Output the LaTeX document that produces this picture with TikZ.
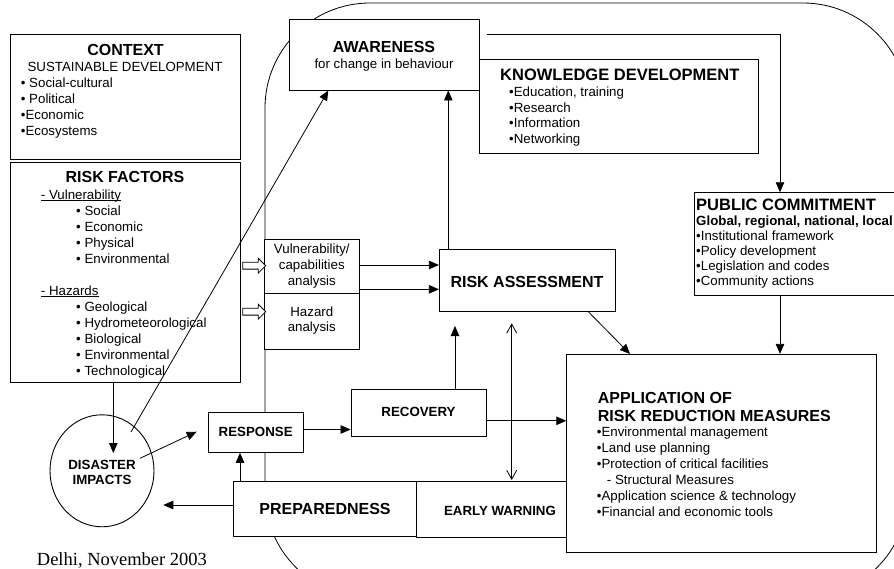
\documentclass[tikz,border=0pt]{standalone}
\usepackage{fontspec}
\setmainfont{Liberation Sans}
\newfontfamily\delhifont{Liberation Serif}
\usetikzlibrary{arrows.meta,shapes.geometric,shapes.arrows}
\newcommand{\LeftLines}[1]{\vtop{\halign{##\hfil\cr#1\crcr}}}
\newcommand{\CenterLines}[1]{\vtop{\halign{\hfil##\hfil\cr#1\crcr}}}
\newcommand{\myul}[1]{\setbox0=\hbox{#1}\rlap{\rule[-2pt]{\wd0}{0.8pt}}\box0}
\begin{document}
\begin{tikzpicture}[x=1pt,y=-1pt,
 box/.style={draw, fill=white, line width=0.9pt, inner sep=0pt},
 hb/.style={inner sep=0pt, font=\fontsize{16}{18.4}\selectfont\bfseries},
 sb/.style={inner sep=0pt, font=\fontsize{13.3}{15.3}\selectfont\bfseries},
 tx/.style={inner sep=0pt, font=\fontsize{13.3}{16}\selectfont},
 arr/.style={line width=0.8pt, -{Triangle[length=10pt,width=8.5pt]}},
 dblarr/.style={line width=0.8pt, {Straight Barb[length=9pt,width=10pt]}-{Straight Barb[length=9pt,width=10pt]}},
 hollow/.style={single arrow, draw, fill=white, line width=0.8pt, inner xsep=0pt, inner ysep=3pt, single arrow head extend=4pt, minimum height=23pt}
]
\useasboundingbox (0,0) rectangle (894,568);
\clip (0,0) rectangle (894,568);
\draw[line width=0.8pt, rounded corners=105pt] (265,3) rectangle (908,598);

% boxes
\node[box, minimum width=230pt, minimum height=125pt] (context) at (125.7,96.8) {};
\node[box, minimum width=230pt, minimum height=220pt] (riskf) at (125.7,272.7) {};
\node[box, minimum width=190pt, minimum height=71pt] (aware) at (384.3,54.5) {};
\node[box, minimum width=279pt, minimum height=94pt] (know) at (618.8,106.3) {};
\node[box, minimum width=206pt, minimum height=103pt] (public) at (797,244.2) {};
\node[box, minimum width=95pt, minimum height=54.3pt] (vuln) at (311.8,266.2) {};
\node[box, minimum width=95pt, minimum height=55.7pt] (hazard) at (311.8,321.2) {};
\node[box, minimum width=175.7pt, minimum height=62.4pt] (ra) at (527.2,280.5) {};
\node[box, minimum width=95pt, minimum height=39.6pt] (response) at (255.8,432.5) {};
\node[box, minimum width=135pt, minimum height=47.5pt] (recovery) at (418.5,412.8) {};
\node[box, minimum width=183.4pt, minimum height=55pt] (prep) at (325,509.2) {};
\node[box, minimum width=166.6pt, minimum height=55.6pt] (early) at (500,509.5) {};
\node[box, minimum width=310pt, minimum height=198.4pt] (apply) at (721.7,453.5) {};
\node[box, ellipse, minimum width=104pt, minimum height=112pt] (disaster) at (102,470.8) {};

% texts
\node[hb, anchor=base] (tcontext) at (125.5,55) {CONTEXT};
\node[tx, anchor=base] (tsd) at (125,71.5) {SUSTAINABLE DEVELOPMENT};
\node[tx, anchor=base west] (tcl) at (20.7,87) {\LeftLines{• Social-cultural\cr • Political\cr •Economic\cr •Ecosystems}};

\node[hb, anchor=base] (triskf) at (125,182.7) {RISK FACTORS};
\node[tx, anchor=base west] (tvul) at (40.7,199) {\myul{- Vulnerability}};
\node[tx, anchor=base west] (tvull) at (76,215.7) {\LeftLines{• Social\cr • Economic\cr • Physical\cr • Environmental}};
\node[tx, anchor=base west] (thaz) at (40.7,295) {\myul{- Hazards}};
\node[tx, anchor=base west] (thazl) at (76,311) {\LeftLines{• Geological\cr • Hydrometeorological\cr • Biological\cr • Environmental\cr • Technological}};

\node[hb, anchor=base] (taware) at (384,52) {AWARENESS};
\node[tx, anchor=base] (tawsub) at (384,68) {for change in behaviour};

\node[hb, anchor=base west, font=\fontsize{16.5}{19}\selectfont\bfseries] (tknow) at (500,80) {KNOWLEDGE DEVELOPMENT};
\node[tx, anchor=base west, font=\fontsize{13.3}{15.5}\selectfont] (tknowl) at (509,96.7) {\LeftLines{•Education, training\cr •Research\cr •Information\cr •Networking}};

\node[hb, anchor=base west, font=\fontsize{16.5}{19}\selectfont\bfseries] (tpublic) at (696,210.7) {PUBLIC COMMITMENT};
\node[tx, anchor=base west, font=\fontsize{13.3}{15}\selectfont] (tpubl) at (696,225.7) {\LeftLines{\textbf{Global, regional, national, local}\cr •Institutional framework\cr •Policy development\cr •Legislation and codes\cr •Community actions}};

\node[tx, anchor=base] (tvuln) at (311.8,253.3) {\CenterLines{Vulnerability/\cr capabilities\cr analysis}};
\node[tx, anchor=base, font=\fontsize{13.3}{15.7}\selectfont] (thazard) at (311.8,316) {\CenterLines{Hazard\cr analysis}};

\node[hb, anchor=base] (tra) at (527,287.3) {RISK ASSESSMENT};
\node[sb, anchor=base] (trecovery) at (418.5,416.7) {RECOVERY};
\node[sb, anchor=base] (tresponse) at (255.7,436.7) {RESPONSE};
\node[sb, anchor=base] (tdisaster) at (102,469) {\CenterLines{DISASTER\cr IMPACTS}};
\node[hb, anchor=base] (tprep) at (325,514) {PREPAREDNESS};
\node[sb, anchor=base] (tearly) at (500,515) {EARLY WARNING};

\node[hb, anchor=base west] (tapply) at (597.7,403.3) {\LeftLines{APPLICATION OF\cr RISK REDUCTION MEASURES}};
\node[tx, anchor=base west] (tapplyl) at (596.7,436.7) {\LeftLines{•Environmental management\cr •Land use planning\cr •Protection of critical facilities\cr \hskip10pt- Structural Measures\cr •Application science \& technology\cr •Financial and economic tools}};

\node[inner sep=0pt, anchor=base west, font=\delhifont\fontsize{18.5}{20}\selectfont] (tdelhi) at (36.7,565) {Delhi, November 2003};

% hollow arrows
\node[hollow] (ha1) at (252.5,265.7) {};
\node[hollow] (ha2) at (252.5,311.7) {};

% coordinates
\coordinate (dtip) at (113.3,453);
\coordinate (dout1) at (131,432);
\coordinate (awx) at (328.3,0);
\coordinate (dout2) at (140,458.3);
\coordinate (rtip) at (196.7,431.7);
\coordinate (rax) at (455,326);
\coordinate (upx) at (448.3,0);
\coordinate (v1) at (0,265);
\coordinate (v2) at (0,289.3);
\coordinate (rad1) at (588.3,311.7);
\coordinate (rad2) at (630,354);
\coordinate (pcx) at (780,0);
\coordinate (kstart) at (486.7,34.3);
\coordinate (dd1) at (511.7,323.3);
\coordinate (dd2) at (511.7,480);
\coordinate (px) at (240,0);
\coordinate (ptip) at (163.3,505);

% connectors
\draw[arr] (riskf.south -| dtip) -- (dtip);
\draw[arr] (dout1) -- (aware.south -| awx);
\draw[arr] (dout2) -- (rtip);
\draw[arr] ([yshift=3pt]response.east) -- ([yshift=3pt]response.east -| recovery.west);
\draw[arr] (recovery.north -| rax) -- (rax);
\draw[arr] ([yshift=-8pt]recovery.east) -- ([yshift=-8pt]recovery.east -| apply.west);
\draw[arr] (ra.north -| upx) -- (aware.south -| upx);
\draw[arr] (vuln.east |- v1) -- (ra.west |- v1);
\draw[arr] (vuln.east |- v2) -- (ra.west |- v2);
\draw[arr] (rad1) -- (rad2);
\draw[arr] (public.south -| pcx) -- (apply.north -| pcx);
\draw[arr] (kstart) -| (public.north -| pcx);
\draw[dblarr] (dd1) -- (dd2);
\draw[arr] (prep.north -| px) -- (response.south -| px);
\draw[arr] (prep.west |- ptip) -- (ptip);
\end{tikzpicture}
\end{document}
